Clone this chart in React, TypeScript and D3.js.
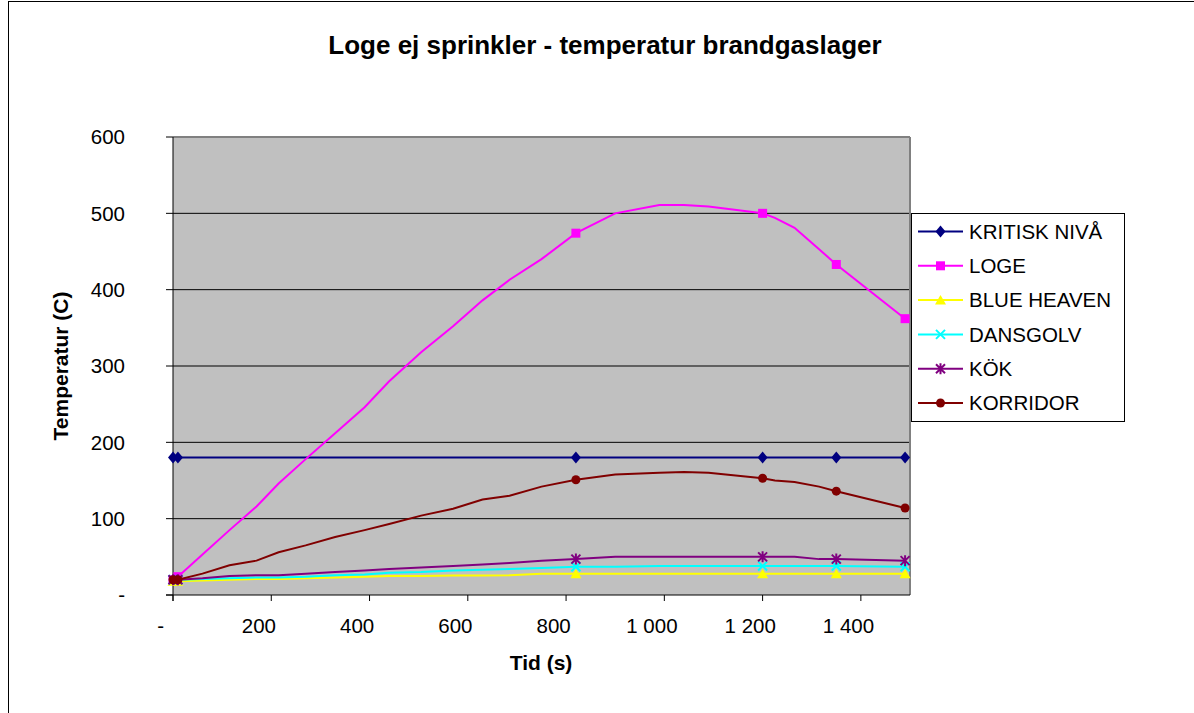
import React from "react";
import * as d3 from "d3";

// Time axis (s) shared by all series
const times = [0, 10, 60, 115, 170, 215, 270, 330, 390, 440, 505, 570, 630, 685, 750, 820, 900, 990, 1040, 1090, 1200, 1225, 1265, 1315, 1350, 1490];

// Temperatures (C) per room
const kritiskNiva = [180, 180, 180, 180, 180, 180, 180, 180, 180, 180, 180, 180, 180, 180, 180, 180, 180, 180, 180, 180, 180, 180, 180, 180, 180, 180];
const loge = [20, 24, 53, 85, 116, 146, 178, 212, 246, 280, 318, 352, 386, 413, 440, 474, 500, 511, 511, 509, 500, 494, 481, 453, 433, 362];
const blueHeaven = [18, 18, 19, 20, 21, 21, 22, 23, 24, 25, 25, 25.5, 25.5, 26, 28, 28, 28, 28, 28, 28, 28, 28, 28, 28, 28, 28];
const dansgolv = [20, 20, 21, 22, 23, 23, 24, 26, 27, 29, 30, 32, 33, 34, 35.5, 37, 37, 38, 38, 38, 38, 38, 38, 38, 38, 37];
const kok = [20, 20, 22, 25, 26, 26, 28, 30, 32, 34, 36, 38, 40, 42, 45, 47, 50, 50, 50, 50, 50, 50, 50, 47, 47, 45];
const korridor = [20, 20, 28, 39, 45, 56, 65, 76, 85, 93, 104, 113, 125, 130, 142, 151, 158, 160, 161, 160, 153, 150, 148, 142, 136, 114];

// Sample times that carry a marker
const markerTimes = [0, 10, 820, 1200, 1350, 1490];

const seriesNames = ["KRITISK NIVÅ", "LOGE", "BLUE HEAVEN", "DANSGOLV", "KÖK", "KORRIDOR"];
const seriesValues = [kritiskNiva, loge, blueHeaven, dansgolv, kok, korridor];
const seriesColors = ["#000080", "#FF00FF", "#FFFF00", "#00FFFF", "#800080", "#800000"];
const seriesMarkers = ["diamond", "square", "triangle", "x", "star", "circle"];

const xTicks = [0, 200, 400, 600, 800, 1000, 1200, 1400];
const yTicks = [0, 100, 200, 300, 400, 500, 600];

const W = 1194;
const H = 713;
const plot = { left: 173, right: 910, top: 137, bottom: 595 };
const font = "'Liberation Sans', Arial, sans-serif";

const fmt = (v: number) => (v === 0 ? "-" : d3.format(",")(v).replace(/,/g, " "));

function Marker({ kind, x, y, color }: { kind: string; x: number; y: number; color: string }) {
  switch (kind) {
    case "diamond":
      return <path d={`M${x},${y - 6}L${x + 5},${y}L${x},${y + 6}L${x - 5},${y}Z`} fill={color} />;
    case "square":
      return <rect x={x - 4.5} y={y - 4.5} width={9} height={9} fill={color} />;
    case "triangle":
      return <path d={`M${x},${y - 5}L${x + 5.5},${y + 4.5}L${x - 5.5},${y + 4.5}Z`} fill={color} />;
    case "x":
      return (
        <path d={`M${x - 4.5},${y - 4.5}L${x + 4.5},${y + 4.5}M${x - 4.5},${y + 4.5}L${x + 4.5},${y - 4.5}`} stroke={color} strokeWidth={2} />
      );
    case "star":
      return (
        <path
          d={`M${x - 4.5},${y - 4.5}L${x + 4.5},${y + 4.5}M${x - 4.5},${y + 4.5}L${x + 4.5},${y - 4.5}M${x},${y - 5.5}L${x},${y + 5.5}`}
          stroke={color}
          strokeWidth={2}
        />
      );
    default:
      return <circle cx={x} cy={y} r={4.5} fill={color} />;
  }
}

export default function App() {
  const x = d3.scaleLinear().domain([0, 1500]).range([plot.left, plot.right]);
  const y = d3.scaleLinear().domain([0, 600]).range([plot.bottom, plot.top]);

  const line = d3
    .line<number>()
    .x((_, i) => x(times[i]))
    .y((d) => y(d));

  const legend = { x: 911, y: 213, w: 213, h: 208, first: 231.5, step: 34.3 };

  return (
    <div style={{ position: "fixed", left: 0, top: 0 }}>
      <svg width={W} height={H} style={{ display: "block", background: "#fff" }} fontFamily={font}>
        {/* chart frame */}
        <rect x={8.5} y={1.5} width={W + 20} height={H + 20} fill="none" stroke="#000" strokeWidth={1} />

        {/* plot area */}
        <rect x={plot.left} y={plot.top} width={plot.right - plot.left} height={plot.bottom - plot.top} fill="#C0C0C0" />
        {yTicks.slice(1, -1).map((t) => (
          <line key={t} x1={plot.left} x2={plot.right} y1={y(t)} y2={y(t)} stroke="#000" strokeWidth={1} />
        ))}
        <line x1={plot.left} x2={plot.right} y1={plot.top} y2={plot.top} stroke="#808080" strokeWidth={2} />
        <line x1={plot.right} x2={plot.right} y1={plot.top} y2={plot.bottom} stroke="#808080" strokeWidth={2} />

        {/* axes */}
        <line x1={plot.left} x2={plot.left} y1={plot.top} y2={plot.bottom + 6} stroke="#000" strokeWidth={1} />
        <line x1={plot.left - 7} x2={plot.right} y1={plot.bottom} y2={plot.bottom} stroke="#000" strokeWidth={1} />
        {yTicks.map((t) => (
          <g key={t}>
            <line x1={plot.left - 7} x2={plot.left} y1={y(t)} y2={y(t)} stroke="#000" />
            <text x={125} y={y(t) + 7.3} textAnchor="end" fontSize={20.5} fill="#000">
              {fmt(t)}
            </text>
          </g>
        ))}
        {xTicks.map((t) => (
          <g key={t}>
            <line x1={x(t)} x2={x(t)} y1={plot.bottom} y2={plot.bottom + 6} stroke="#000" />
            <text x={x(t) - 12.4} y={633} textAnchor="middle" fontSize={20.5} fill="#000">
              {fmt(t)}
            </text>
          </g>
        ))}

        {/* series */}
        {seriesValues.map((vals, si) => (
          <g key={seriesNames[si]}>
            <path d={line(vals) ?? ""} fill="none" stroke={seriesColors[si]} strokeWidth={2} />
            {markerTimes.map((mt) => {
              const i = times.indexOf(mt);
              return <Marker key={mt} kind={seriesMarkers[si]} x={x(times[i])} y={y(vals[i])} color={seriesColors[si]} />;
            })}
          </g>
        ))}

        {/* titles */}
        <text x={605} y={54} textAnchor="middle" fontSize={26} fontWeight="bold" fill="#000">
          Loge ej sprinkler - temperatur brandgaslager
        </text>
        <text x={541} y={670} textAnchor="middle" fontSize={21} fontWeight="bold" fill="#000">
          Tid (s)
        </text>
        <text transform={`translate(68,366) rotate(-90)`} textAnchor="middle" fontSize={21} fontWeight="bold" fill="#000">
          Temperatur (C)
        </text>

        {/* legend */}
        <rect x={legend.x + 0.5} y={legend.y + 0.5} width={legend.w} height={legend.h} fill="#fff" stroke="#000" strokeWidth={1} />
        {seriesNames.map((name, si) => {
          const cy = legend.first + si * legend.step;
          return (
            <g key={name}>
              <line x1={918} x2={963} y1={cy} y2={cy} stroke={seriesColors[si]} strokeWidth={2} />
              <Marker kind={seriesMarkers[si]} x={940.5} y={cy} color={seriesColors[si]} />
              <text x={969} y={cy + 7.3} fontSize={20.5} fill="#000">
                {name}
              </text>
            </g>
          );
        })}
      </svg>
    </div>
  );
}
